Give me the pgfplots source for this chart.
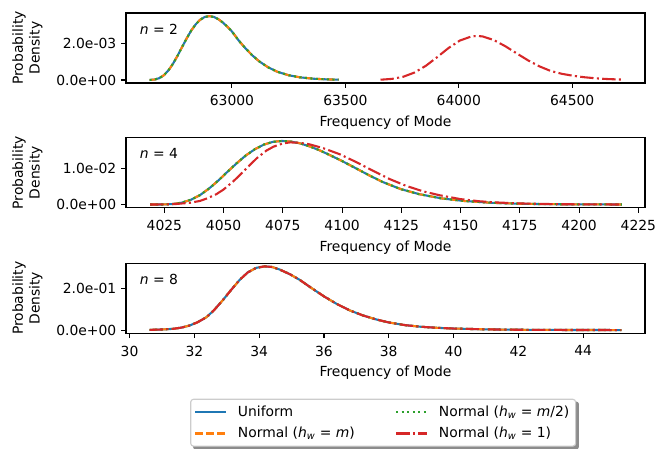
\documentclass[border=0pt]{standalone}
\usepackage{fontspec}
\setmainfont{DejaVu Sans}
\usepackage{pgfplots}
\pgfplotsset{compat=1.18}
\usepackage{pgfplotstable}
\usetikzlibrary{backgrounds}
\definecolor{tabblue}{HTML}{1F77B4}
\definecolor{taborange}{HTML}{FF7F0E}
\definecolor{tabgreen}{HTML}{2CA02C}
\definecolor{tabred}{HTML}{D62728}

\pgfplotstableread{
x y
62637 0.0000024
62660 0.000027
62680 0.000102
62700 0.000261
62720 0.000522
62740 0.000882
62760 0.001317
62780 0.001790
62800 0.002257
62820 0.002681
62840 0.003029
62860 0.003282
62880 0.003432
62900 0.003480
62920 0.003436
62940 0.003314
62960 0.003130
62980 0.002902
63000 0.002646
63030 0.002150
63060 0.001720
63090 0.001340
63120 0.001020
63160 0.000690
63200 0.000450
63250 0.000260
63300 0.000145
63360 0.000070
63420 0.000033
63470 0.000017
}\tabtwo

\pgfplotstableread{
x y
63655 0.000016
63705 0.000061
63755 0.000177
63805 0.000408
63855 0.000775
63905 0.001248
63955 0.001745
64005 0.002150
64055 0.002371
64080 0.002400
64105 0.002374
64155 0.002174
64205 0.001841
64255 0.001452
64305 0.001073
64355 0.000746
64405 0.000492
64455 0.000336
64505 0.000228
64555 0.000149
64605 0.000091
64655 0.000053
64717 0.000024
}\tabtwored

\pgfplotstableread{
x y
4019.0 0.000000
4024.1 0.000012
4028.5 0.000138
4032.4 0.000519
4036.2 0.001326
4040.1 0.002653
4043.9 0.004485
4047.8 0.006698
4051.6 0.009103
4055.5 0.011480
4059.3 0.013634
4063.2 0.015404
4067.0 0.016693
4070.8 0.017454
4074.7 0.017700
4078.5 0.017520
4082.4 0.017000
4086.2 0.016200
4090.1 0.015200
4093.9 0.014050
4099.7 0.012200
4105.5 0.010200
4111.2 0.008200
4117.0 0.006300
4124.7 0.004300
4132.4 0.002900
4142.0 0.001700
4151.6 0.000980
4163.1 0.000480
4174.7 0.000225
4184.3 0.000118
4199.7 0.000040
4218.0 0.000011
}\tabfour

\pgfplotstableread{
x y
4019 0.00000
4025 0.00003
4030 0.00015
4036 0.00050
4040 0.00100
4043 0.00170
4047 0.00290
4050 0.00420
4054 0.00640
4057 0.00830
4060 0.01030
4064 0.01290
4068 0.01500
4071 0.01610
4075 0.01700
4078 0.01730
4082 0.01720
4086 0.01680
4092 0.01570
4099 0.01400
4106 0.01180
4113 0.00940
4120 0.00710
4127 0.00520
4134 0.00370
4141 0.00260
4150 0.00150
4158 0.00090
4165 0.00058
4175 0.00030
4190 0.00010
4205 0.00003
4218 0.00001
}\tabfourred

\pgfplotstableread{
x y
30.62 0.001
31.00 0.003
31.34 0.006
31.60 0.012
31.85 0.022
32.10 0.038
32.37 0.062
32.60 0.095
32.88 0.145
33.15 0.197
33.40 0.243
33.65 0.279
33.91 0.301
34.17 0.308
34.40 0.305
34.63 0.293
34.95 0.270
35.25 0.243
35.60 0.205
36.00 0.163
36.40 0.126
36.80 0.095
37.20 0.071
37.60 0.052
38.00 0.037
38.50 0.024
39.00 0.016
39.50 0.011
40.00 0.0075
41.00 0.0035
42.00 0.0016
43.00 0.0008
44.00 0.0004
45.18 0.0002
}\tabeight

\pgfplotsset{
  myaxis/.style={
    scale only axis, width=373.7pt, height=50.4pt,
    font=\fontsize{10}{12}\selectfont,
    axis line style={line width=0.8pt},
    tick align=outside, xtick pos=bottom, ytick pos=left,
    major tick length=3.5pt,
    every tick/.style={black, line width=0.8pt},
    scaled x ticks=false, scaled y ticks=false,
    /pgf/number format/1000 sep={},
    /pgf/number format/assume math mode=true,
    xticklabel style={yshift=-2pt},
    xlabel={Frequency of Mode},
    ylabel={Probability\\Density},
    every axis y label/.style={at={(axis description cs:-0.19,0.5)}, rotate=90, anchor=center, align=center},
    every axis x label/.style={at={(axis description cs:0.5,-0.565)}, anchor=center},
  },
  blu/.style={tabblue, line width=1.5pt},
  ora/.style={taborange, line width=1.5pt, dash pattern=on 5.55pt off 2.4pt},
  gre/.style={tabgreen, line width=1.5pt, dash pattern=on 1.5pt off 2.475pt},
  rd/.style={tabred, line width=1.5pt, dash pattern=on 9.6pt off 2.4pt on 1.5pt off 2.4pt},
}

\begin{document}
\begin{tikzpicture}
\useasboundingbox (-90.72pt,9.36pt) rectangle (391.68pt,-313.92pt);

\begin{axis}[myaxis, at={(0,0)}, anchor=north west,
  xmin=62533, xmax=64821, ymin=-0.000163, ymax=0.00365,
  xtick={63000,63500,64000,64500},
  ytick={0,0.002}, yticklabels={0.0e+00,2.0e-03}]
\addplot[blu] table[x=x,y=y] {\tabtwo};
\addplot[ora] table[x=x,y=y] {\tabtwo};
\addplot[gre] table[x=x,y=y] {\tabtwo};
\addplot[rd] table[x=x,y=y] {\tabtwored};
\node[anchor=west, xshift=6.5pt, yshift=-11.6pt] at (rel axis cs:0,1) {\textit{n} = 2};
\end{axis}

\begin{axis}[myaxis, at={(0,-89.8pt)}, anchor=north west,
  xmin=4008.8, xmax=4227.8, ymin=-0.00089, ymax=0.0186,
  xtick={4025,4050,4075,4100,4125,4150,4175,4200,4225},
  ytick={0,0.01}, yticklabels={0.0e+00,1.0e-02}]
\addplot[blu] table[x=x,y=y] {\tabfour};
\addplot[ora] table[x=x,y=y] {\tabfour};
\addplot[gre] table[x=x,y=y] {\tabfour};
\addplot[rd] table[x=x,y=y] {\tabfourred};
\node[anchor=west, xshift=6.5pt, yshift=-11.6pt] at (rel axis cs:0,1) {\textit{n} = 4};
\end{axis}

\begin{axis}[myaxis, at={(0,-180.2pt)}, anchor=north west,
  xmin=29.89, xmax=45.91, ymin=-0.0154, ymax=0.323,
  xtick={30,32,34,36,38,40,42,44},
  ytick={0,0.2}, yticklabels={0.0e+00,2.0e-01},
  legend columns=2,
  legend cell align=left,
  legend image code/.code={\draw[#1] (0pt,0pt) -- (22pt,0pt);},
  legend style={name=leg, at={(axis description cs:0.4955,-0.935)}, anchor=north,
    draw=black!20, line width=0.8pt, rounded corners=2pt, fill=white,
    inner xsep=2.5pt, inner ysep=2.5pt, row sep=2.5pt,
    nodes={inner sep=2pt},
    /tikz/every odd column/.style={column sep=6pt},
    /tikz/column 2/.style={column sep=27pt},
    font=\fontsize{10}{12}\selectfont}]
\addplot[blu, forget plot] table[x=x,y=y] {\tabeight};
\addplot[ora, forget plot] table[x=x,y=y] {\tabeight};
\addplot[gre, forget plot] table[x=x,y=y] {\tabeight};
\addplot[rd, forget plot] table[x=x,y=y] {\tabeight};
\addlegendimage{blu}
\addlegendentry{Uniform}
\addlegendimage{gre}
\addlegendentry{Normal (\textit{h}\textsubscript{\textit{w}} = \textit{m}/2)}
\addlegendimage{ora}
\addlegendentry{Normal (\textit{h}\textsubscript{\textit{w}} = \textit{m})}
\addlegendimage{rd}
\addlegendentry{Normal (\textit{h}\textsubscript{\textit{w}} = 1)}
\node[anchor=west, xshift=6.5pt, yshift=-11.6pt] at (rel axis cs:0,1) {\textit{n} = 8};
\end{axis}
\begin{scope}[on background layer]
\fill[black!45, rounded corners=2pt] ([xshift=2pt,yshift=-2pt]leg.south west) rectangle ([xshift=2pt,yshift=-2pt]leg.north east);
\end{scope}
\end{tikzpicture}
\end{document}
